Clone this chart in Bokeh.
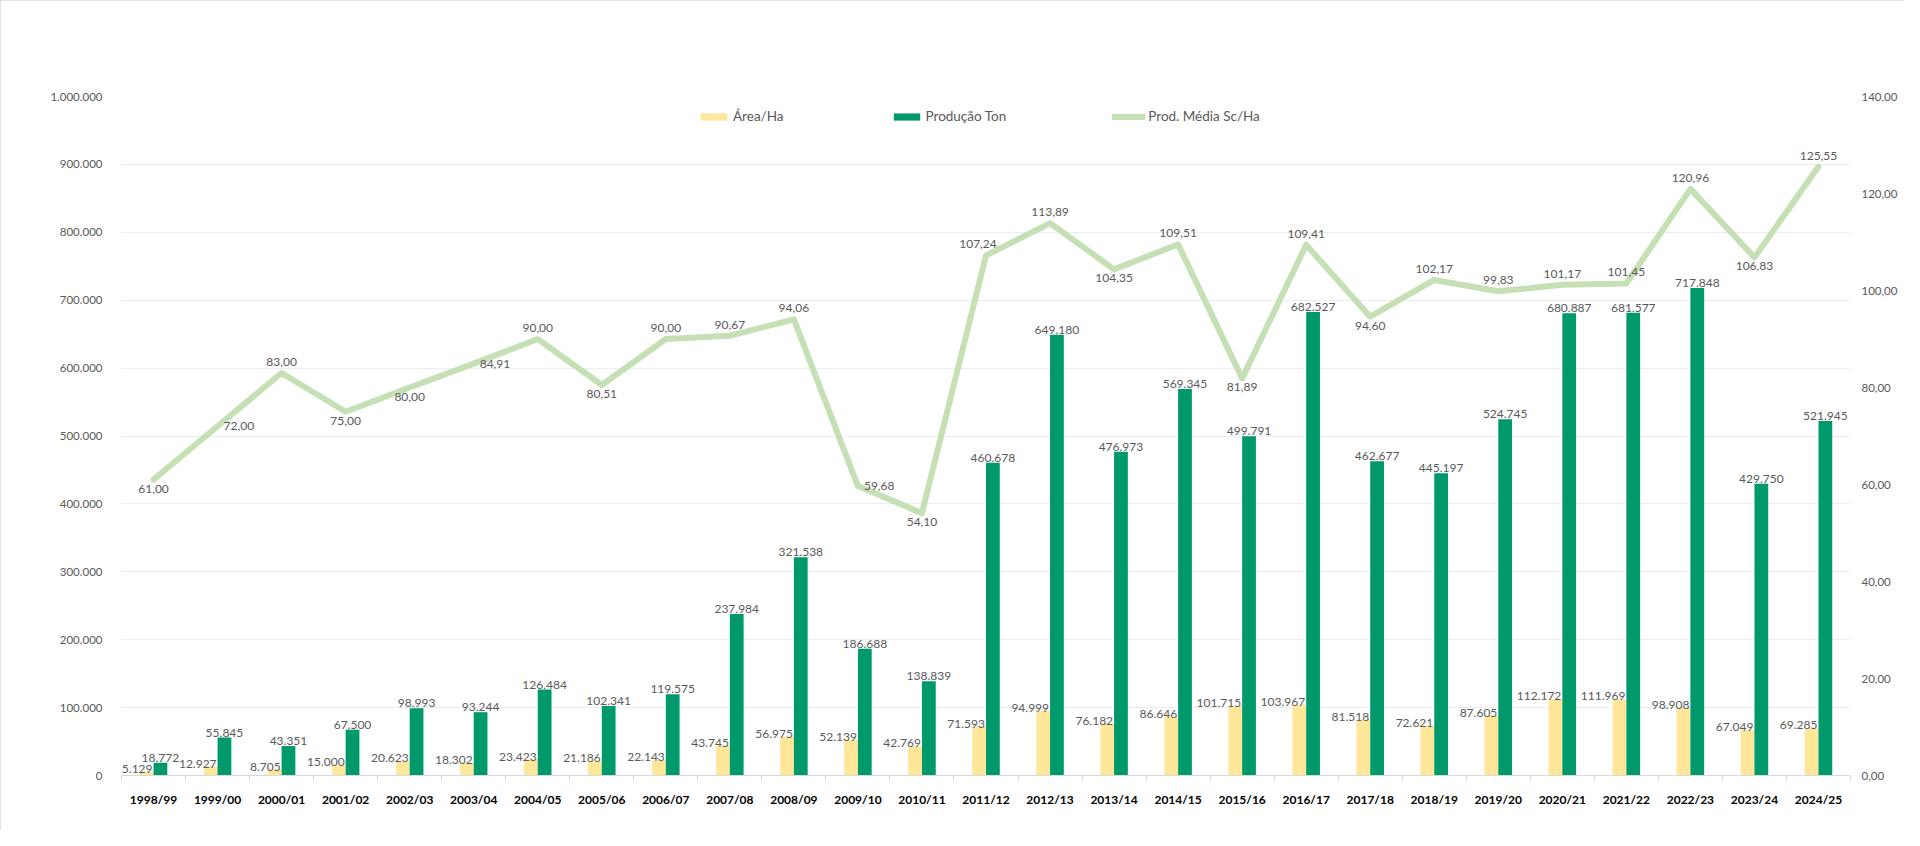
from bokeh.plotting import figure
from bokeh.models import Range1d, LinearAxis, FixedTicker, ColumnDataSource, Legend, LegendItem
from bokeh.embed import file_html
from bokeh.resources import INLINE
from bokeh.core.properties import value

categories = ["1998/99", "1999/00", "2000/01", "2001/02", "2002/03", "2003/04", "2004/05",
              "2005/06", "2006/07", "2007/08", "2008/09", "2009/10", "2010/11", "2011/12",
              "2012/13", "2013/14", "2014/15", "2015/16", "2016/17", "2017/18", "2018/19",
              "2019/20", "2020/21", "2021/22", "2022/23", "2023/24", "2024/25"]
area_ha = [5129, 12927, 8705, 15000, 20623, 18302, 23423, 21186, 22143, 43745, 56975,
           52139, 42769, 71593, 94999, 76182, 86646, 101715, 103967, 81518, 72621,
           87605, 112172, 111969, 98908, 67049, 69285]
producao_ton = [18772, 55845, 43351, 67500, 98993, 93244, 126484, 102341, 119575, 237984,
                321538, 186688, 138839, 460678, 649180, 476973, 569345, 499791, 682527,
                462677, 445197, 524745, 680887, 681577, 717848, 429750, 521945]
prod_media = [61.00, 72.00, 83.00, 75.00, 80.00, 84.91, 90.00, 80.51, 90.00, 90.67, 94.06,
              59.68, 54.10, 107.24, 113.89, 104.35, 109.51, 81.89, 109.41, 94.60, 102.17,
              99.83, 101.17, 101.45, 120.96, 106.83, 125.55]
left_ticks = [0, 100000, 200000, 300000, 400000, 500000, 600000, 700000, 800000, 900000, 1000000]
right_ticks = [0, 20, 40, 60, 80, 100, 120, 140]
series_names = ["Área/Ha", "Produção Ton", "Prod. Média Sc/Ha"]

# label placement for the line labels (style only)
line_label_pos = ["b", "r", "a", "b", "b", "r", "a", "b", "a", "a", "a", "r", "b", "al",
                  "a", "b", "a", "b", "a", "b", "a", "a", "a", "a", "a", "b", "a"]


def fmt_int(v):
    return f"{v:,}".replace(",", ".")


def fmt_dec(v):
    return f"{v:.2f}".replace(".", ",")


FONT = "Lato"
GRAY = "#595959"
YELLOW = "#FFE699"
GREEN = "#00996B"
LIGHT = "#C5E0B4"
BAR_W = 0.215

n = len(categories)
centers = [i + 0.5 for i in range(n)]
bounds = [float(i) for i in range(n + 1)]

src = ColumnDataSource(dict(
    x=centers,
    xa=[c - BAR_W / 2 for c in centers],
    xp=[c + BAR_W / 2 for c in centers],
    area=area_ha,
    prod=producao_ton,
    media=prod_media,
    area_lbl=[fmt_int(v) for v in area_ha],
    prod_lbl=[fmt_int(v) for v in producao_ton],
    media_lbl=[fmt_dec(v) for v in prod_media],
))

W, H = 1904, 830
p = figure(width=W, height=H, output_backend="svg", toolbar_location=None,
           x_range=Range1d(0, n), y_range=Range1d(0, 1000000),
           min_border_left=121, min_border_right=54, min_border_top=96, min_border_bottom=55)
p.extra_y_ranges = {"right": Range1d(0, 140)}
p.outline_line_color = None
p.background_fill_color = "white"
p.border_fill_color = "white"
p.styles = {"outline": "1px solid #D9D9D9", "outline-offset": "-1px"}

# x axis
xa = p.xaxis[0]
xa.ticker = FixedTicker(ticks=centers, minor_ticks=bounds)
xa.major_label_overrides = {c: cat for c, cat in zip(centers, categories)}
xa.axis_line_color = "#D9D9D9"
xa.major_tick_line_color = None
xa.major_tick_out = 0
xa.major_tick_in = 0
xa.minor_tick_line_color = "#D9D9D9"
xa.minor_tick_out = 5
xa.minor_tick_in = 0
xa.major_label_standoff = 11
xa.major_label_text_font = FONT
xa.major_label_text_font_size = "12px"
xa.major_label_text_font_style = "bold"
xa.major_label_text_color = "black"

# left axis
ya = p.yaxis[0]
lt = FixedTicker(ticks=left_ticks)
ya.ticker = lt
ya.major_label_overrides = {t: fmt_int(t) for t in left_ticks}
ya.axis_line_color = None
ya.major_tick_line_color = None
ya.minor_tick_line_color = None
ya.major_tick_out = 0
ya.major_label_standoff = 19
ya.major_label_text_font = FONT
ya.major_label_text_font_size = "11.5px"
ya.major_label_text_color = GRAY

# right axis
ra_ax = LinearAxis(y_range_name="right", ticker=FixedTicker(ticks=right_ticks))
ra_ax.major_label_overrides = {t: fmt_dec(t) for t in right_ticks}
ra_ax.axis_line_color = None
ra_ax.major_tick_line_color = None
ra_ax.minor_tick_line_color = None
ra_ax.major_tick_out = 0
ra_ax.major_label_standoff = 11
ra_ax.major_label_text_font = FONT
ra_ax.major_label_text_font_size = "11.5px"
ra_ax.major_label_text_color = GRAY
p.add_layout(ra_ax, "right")

p.xgrid.visible = False
p.ygrid.ticker = lt
p.ygrid.grid_line_color = "#EDEDED"
p.ygrid.grid_line_width = 1

r_area = p.vbar(x="xa", top="area", width=BAR_W, fill_color=YELLOW, line_color=None, source=src)
r_prod = p.vbar(x="xp", top="prod", width=BAR_W, fill_color=GREEN, line_color=None, source=src)
r_line = p.line(x="x", y="media", y_range_name="right", line_color=LIGHT, line_width=6,
                line_join="round", line_cap="round", source=src)

common = dict(text_font=value(FONT), text_font_size="12px", text_color=GRAY)
p.text(x="x", y="area", text="area_lbl", source=src, text_align="right",
       text_baseline="alphabetic", x_offset=-1, y_offset=-3, **common)
p.text(x="xp", y="prod", text="prod_lbl", source=src, text_align="center",
       text_baseline="alphabetic", y_offset=-5, **common)

offsets = {"a": ("center", 0, -11), "b": ("center", 0, 9), "r": ("left", 6, 0), "al": ("center", -8, -11)}
for key, (align, dx, dy) in offsets.items():
    idx = [i for i, k in enumerate(line_label_pos) if k == key]
    s = ColumnDataSource(dict(x=[centers[i] for i in idx], y=[prod_media[i] for i in idx],
                              t=[fmt_dec(prod_media[i]) for i in idx]))
    p.text(x="x", y="y", text="t", source=s, y_range_name="right", text_align=align,
           text_baseline="middle", x_offset=dx, y_offset=dy, **common)

legend = Legend(items=[LegendItem(label=series_names[0], renderers=[r_area]),
                       LegendItem(label=series_names[1], renderers=[r_prod]),
                       LegendItem(label=series_names[2], renderers=[r_line])],
                orientation="horizontal", location=(576, 651), glyph_width=33, glyph_height=9,
                label_standoff=3, spacing=106, padding=0, margin=0, border_line_color=None,
                background_fill_alpha=0, label_text_font=FONT, label_text_font_size="13.5px",
                label_text_color=GRAY, label_height=16)
p.add_layout(legend)

open("out.html", "w").write(file_html(p, INLINE))
